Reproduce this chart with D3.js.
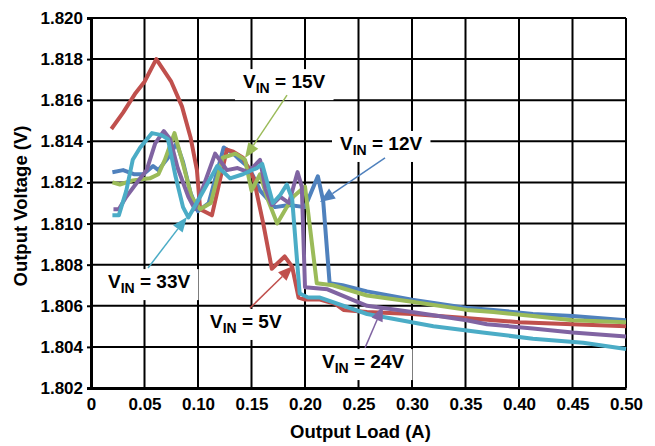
<!DOCTYPE html>
<html>
<head>
<meta charset="utf-8">
<script src="https://cdn.jsdelivr.net/npm/d3@7"></script>
<style>
  body { margin: 0; background: #fff; }
  svg { display: block; font-family: "Liberation Sans", Arial, sans-serif; font-weight: bold; }
</style>
</head>
<body>
<div id="chart"></div>
<script>
// load (A) and output voltage (V) for each input voltage
var load5  = [0.019, 0.030, 0.041, 0.050, 0.061, 0.075, 0.085, 0.093, 0.099, 0.102, 0.113, 0.127, 0.133, 0.142, 0.152, 0.161, 0.169, 0.181, 0.188, 0.194, 0.200, 0.214, 0.228, 0.236, 0.258, 0.300, 0.350, 0.376, 0.400, 0.450, 0.500];
var vout5  = [1.8146, 1.8154, 1.8163, 1.8169, 1.8180, 1.8169, 1.8157, 1.8142, 1.8126, 1.8107, 1.8104, 1.8136, 1.8135, 1.8132, 1.8122, 1.8100, 1.8078, 1.8084, 1.8079, 1.8064, 1.8063, 1.8063, 1.8061, 1.8058, 1.8057, 1.8056, 1.8054, 1.8053, 1.8052, 1.8051, 1.8050];

var load12 = [0.020, 0.030, 0.040, 0.049, 0.058, 0.063, 0.072, 0.080, 0.086, 0.093, 0.100, 0.110, 0.124, 0.133, 0.139, 0.148, 0.158, 0.172, 0.185, 0.200, 0.212, 0.217, 0.223, 0.235, 0.258, 0.300, 0.350, 0.376, 0.413, 0.450, 0.500];
var vout12 = [1.8125, 1.8126, 1.8124, 1.8124, 1.8128, 1.8126, 1.8132, 1.8139, 1.8130, 1.8115, 1.8106, 1.8110, 1.8137, 1.8134, 1.8131, 1.8127, 1.8116, 1.8108, 1.8109, 1.8108, 1.8123, 1.8111, 1.8071, 1.8070, 1.8067, 1.8063, 1.8059, 1.8058, 1.8056, 1.8055, 1.8053];

var load15 = [0.020, 0.027, 0.039, 0.055, 0.063, 0.069, 0.076, 0.078, 0.086, 0.094, 0.102, 0.112, 0.123, 0.135, 0.144, 0.150, 0.158, 0.165, 0.174, 0.183, 0.189, 0.200, 0.211, 0.226, 0.258, 0.300, 0.351, 0.376, 0.413, 0.450, 0.500];
var vout15 = [1.8120, 1.8119, 1.8121, 1.8122, 1.8124, 1.8131, 1.8141, 1.8144, 1.8129, 1.8113, 1.8107, 1.8110, 1.8132, 1.8134, 1.8131, 1.8116, 1.8124, 1.8112, 1.8100, 1.8108, 1.8113, 1.8118, 1.8071, 1.8070, 1.8065, 1.8062, 1.8058, 1.8057, 1.8055, 1.8053, 1.8052];

var load24 = [0.021, 0.026, 0.033, 0.043, 0.052, 0.060, 0.068, 0.074, 0.081, 0.091, 0.097, 0.105, 0.116, 0.127, 0.137, 0.147, 0.158, 0.163, 0.169, 0.177, 0.185, 0.193, 0.197, 0.200, 0.221, 0.258, 0.300, 0.351, 0.370, 0.413, 0.450, 0.500];
var vout24 = [1.8107, 1.8107, 1.8113, 1.8120, 1.8126, 1.8139, 1.8145, 1.8141, 1.8127, 1.8113, 1.8107, 1.8118, 1.8134, 1.8126, 1.8127, 1.8125, 1.8131, 1.8117, 1.8109, 1.8113, 1.8110, 1.8125, 1.8118, 1.8069, 1.8068, 1.8060, 1.8057, 1.8053, 1.8051, 1.8049, 1.8047, 1.8045];

var load33 = [0.020, 0.026, 0.033, 0.039, 0.046, 0.057, 0.066, 0.072, 0.079, 0.086, 0.091, 0.102, 0.118, 0.130, 0.142, 0.155, 0.160, 0.170, 0.177, 0.183, 0.188, 0.195, 0.203, 0.214, 0.258, 0.320, 0.366, 0.413, 0.460, 0.500];
var vout33 = [1.8104, 1.8104, 1.8116, 1.8131, 1.8137, 1.8144, 1.8143, 1.8141, 1.8123, 1.8108, 1.8103, 1.8113, 1.8128, 1.8122, 1.8124, 1.8127, 1.8129, 1.8110, 1.8114, 1.8119, 1.8112, 1.8066, 1.8064, 1.8064, 1.8056, 1.8050, 1.8047, 1.8044, 1.8042, 1.8039];

var xTicks = [0, 0.05, 0.10, 0.15, 0.20, 0.25, 0.30, 0.35, 0.40, 0.45, 0.50];
var xTickLabels = ["0", "0.05", "0.10", "0.15", "0.20", "0.25", "0.30", "0.35", "0.40", "0.45", "0.50"];
var yTicks = [1.802, 1.804, 1.806, 1.808, 1.810, 1.812, 1.814, 1.816, 1.818, 1.820];

// callout labels: text start, arrow start and arrow tip in data units
var labelNames = ["12V", "5V", "15V", "24V", "33V"];
var labelText  = [[0.2327, 1.81358], [0.1112, 1.80492], [0.1421, 1.81659], [0.2159, 1.80297], [0.0159, 1.80686]];
var arrowFrom  = [[0.2748, 1.81319], [0.1486, 1.80589], [0.1832, 1.81625], [0.2561, 1.80395], [0.0533, 1.80784]];
var arrowTip   = [[0.2140, 1.81105], [0.1888, 1.80793], [0.1439, 1.81319], [0.2729, 1.80599], [0.0897, 1.81032]];

var colors = ["#4F81BD", "#C0504D", "#9BBB59", "#8064A2", "#4BACC6"];
var loads = [load12, load5, load15, load24, load33];
var vouts = [vout12, vout5, vout15, vout24, vout33];

function init() {
    var w = 655;
    var h = 446;
    var left = 91, top = 18, right = 626, bottom = 388;

    var svg = d3.select("#chart")
        .append("svg")
        .attr("width", w)
        .attr("height", h);

    var x = d3.scaleLinear().domain([0, 0.5]).range([left, right]);
    var y = d3.scaleLinear().domain([1.802, 1.820]).range([bottom, top]);

    // grid
    svg.append("g")
        .selectAll("line")
        .data(xTicks)
        .enter()
        .append("line")
        .attr("x1", function(d){ return x(d); })
        .attr("x2", function(d){ return x(d); })
        .attr("y1", top)
        .attr("y2", bottom)
        .attr("stroke", "#000")
        .attr("stroke-width", 2);

    svg.append("g")
        .selectAll("line")
        .data(yTicks)
        .enter()
        .append("line")
        .attr("x1", left)
        .attr("x2", right)
        .attr("y1", function(d){ return y(d); })
        .attr("y2", function(d){ return y(d); })
        .attr("stroke", "#000")
        .attr("stroke-width", 2);

    // series
    var line = d3.line()
        .x(function(d){ return x(d[0]); })
        .y(function(d){ return y(d[1]); });

    for (var i = 0; i < loads.length; i++) {
        var pts = loads[i].map(function(l, j){ return [l, vouts[i][j]]; });
        svg.append("path")
            .datum(pts)
            .attr("d", line)
            .attr("fill", "none")
            .attr("stroke", colors[i])
            .attr("stroke-width", 4)
            .attr("stroke-linejoin", "round");
    }

    // axes
    var xAxis = svg.append("g")
        .attr("transform", "translate(0," + bottom + ")")
        .call(d3.axisBottom(x).tickValues(xTicks).tickSize(0).tickPadding(10)
            .tickFormat(function(d, i){ return xTickLabels[i]; }));
    var yAxis = svg.append("g")
        .attr("transform", "translate(" + left + ",0)")
        .call(d3.axisLeft(y).tickValues(yTicks).tickSize(4).tickPadding(4)
            .tickFormat(d3.format(".3f")));

    [xAxis, yAxis].forEach(function(a){
        a.select(".domain").attr("stroke", "#000").attr("stroke-width", 3);
        a.selectAll(".tick line").attr("stroke", "#000").attr("stroke-width", 2);
        a.selectAll("text")
            .attr("fill", "#000")
            .style("font-size", "17px")
            .style("font-weight", "bold")
            .style("font-family", "'Liberation Sans', Arial, sans-serif");
    });

    svg.append("text")
        .attr("x", (left + right) / 2 + 2)
        .attr("y", 438)
        .attr("text-anchor", "middle")
        .style("font-size", "18.5px")
        .text("Output Load (A)");

    svg.append("text")
        .attr("transform", "translate(27," + ((top + bottom) / 2 + 3) + ") rotate(-90)")
        .attr("text-anchor", "middle")
        .style("font-size", "18.5px")
        .text("Output Voltage (V)");

    // callouts
    for (var k = 0; k < labelNames.length; k++) {
        var g = svg.append("g");
        var bg = g.append("rect").attr("fill", "#fff");
        var t = g.append("text")
            .attr("x", x(labelText[k][0]))
            .attr("y", y(labelText[k][1]))
            .style("font-size", "19px");
        t.append("tspan").text("V");
        t.append("tspan").attr("dy", 5).style("font-size", "14px").text("IN");
        t.append("tspan").attr("dy", -5).text(" = " + labelNames[k]);
        var bb = t.node().getBBox();
        bg.attr("x", bb.x - 8).attr("y", bb.y - 2)
            .attr("width", bb.width + 16).attr("height", bb.height + 6);

        var x1 = x(arrowFrom[k][0]), y1 = y(arrowFrom[k][1]);
        var x2 = x(arrowTip[k][0]), y2 = y(arrowTip[k][1]);
        var ang = Math.atan2(y2 - y1, x2 - x1);
        var len = 15, half = 6;
        var bx = x2 - len * Math.cos(ang), by = y2 - len * Math.sin(ang);
        g.append("line")
            .attr("x1", x1).attr("y1", y1)
            .attr("x2", bx).attr("y2", by)
            .attr("stroke", colors[k])
            .attr("stroke-width", 1.5);
        g.append("path")
            .attr("d", "M" + x2 + "," + y2 +
                "L" + (bx + half * Math.sin(ang)) + "," + (by - half * Math.cos(ang)) +
                "L" + (bx - half * Math.sin(ang)) + "," + (by + half * Math.cos(ang)) + "Z")
            .attr("fill", colors[k]);
    }
}

window.onload = init;
</script>
</body>
</html>
